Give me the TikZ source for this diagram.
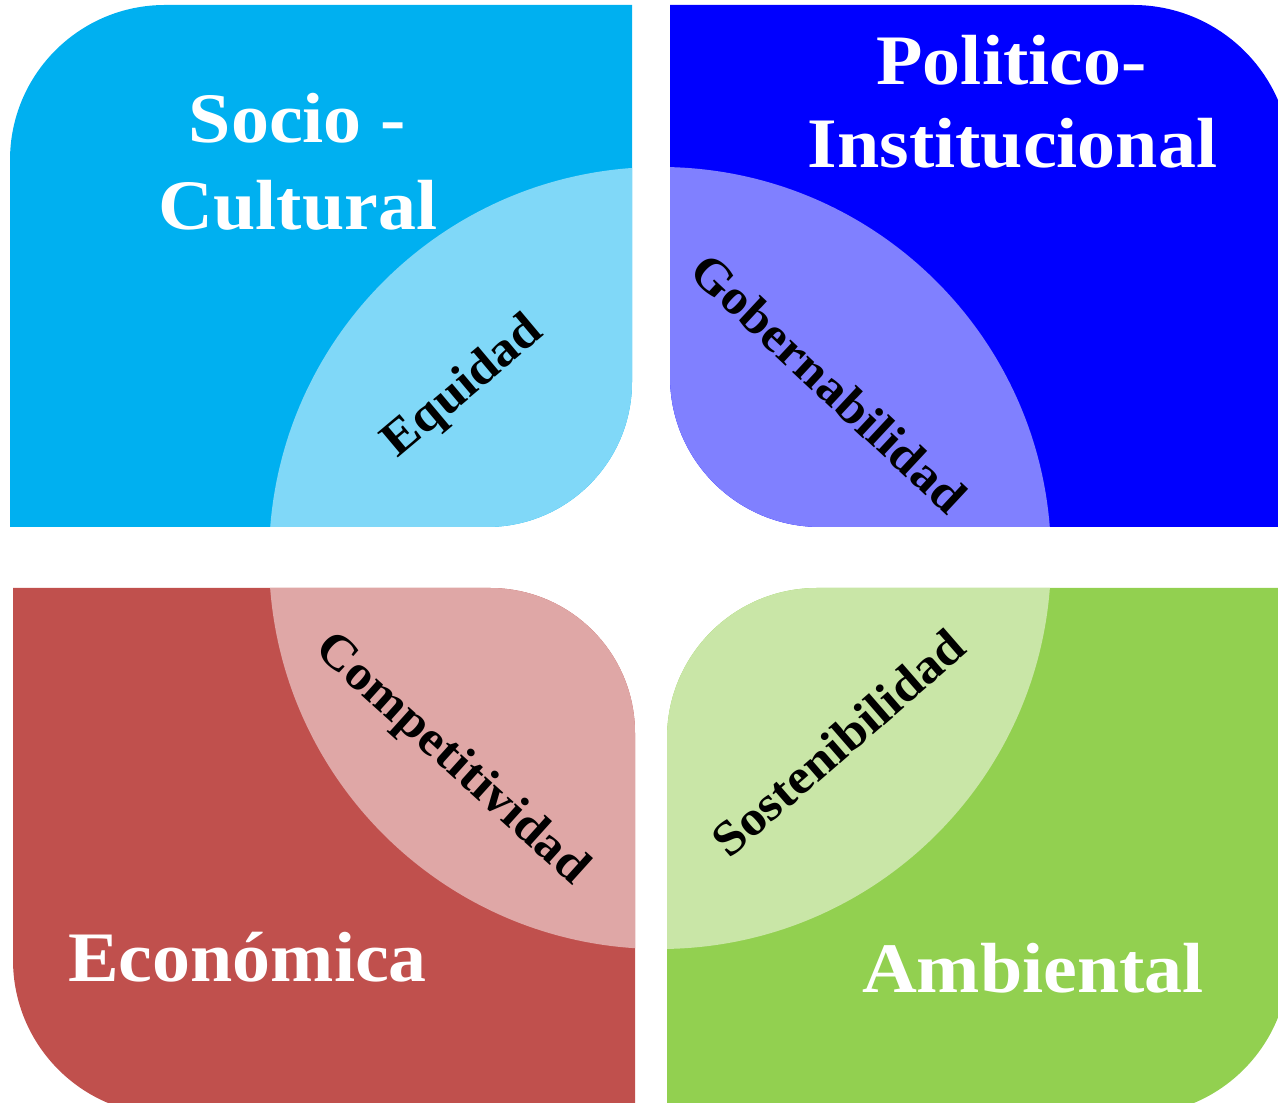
\documentclass[tikz,border=0pt]{standalone}
\usepackage{fontspec}
\setmainfont{Liberation Serif}[FakeStretch=1.07]
\definecolor{tlbase}{HTML}{00B0F0}
\definecolor{tllight}{HTML}{80D8F8}
\definecolor{trbase}{HTML}{0000FF}
\definecolor{trlight}{HTML}{8080FF}
\definecolor{blbase}{HTML}{C0504D}
\definecolor{bllight}{HTML}{DFA7A6}
\definecolor{brbase}{HTML}{92D050}
\definecolor{brlight}{HTML}{C9E6A7}
\def\tlshapepath{(10,576) -- (10,943) arc[start angle=180,end angle=90,radius=155] -- (632,1098) -- (632,721) arc[start angle=0,end angle=-90,radius=145] -- cycle}
\def\trshapepath{(670,726) -- (670,1098) -- (1133,1098) arc[start angle=90,end angle=0,radius=158] -- (1291,576) -- (820,576) arc[start angle=270,end angle=180,radius=150] -- cycle}
\def\blshapepath{(13,515) -- (13,143) arc[start angle=180,end angle=270,radius=155] -- (635,-12) -- (635,370) arc[start angle=0,end angle=90,radius=145] -- cycle}
\def\brshapepath{(667,-12) -- (667,365) arc[start angle=180,end angle=90,radius=150] -- (1289,515) -- (1289,143) arc[start angle=0,end angle=-90,radius=155] -- cycle}
\def\centrecircle{(660,545) circle[radius=391]}
\begin{document}
\begin{tikzpicture}[x=1pt,y=1pt,
  bigtext/.style={font=\fontsize{71}{75}\selectfont\bfseries, text=white, inner sep=0pt, anchor=base},
  diaglabel/.style={font=\fontsize{49}{52}\selectfont\bfseries, text=black, inner sep=0pt}]
\fill[white] (0,0) rectangle (1278,1103);
\useasboundingbox (0,0) rectangle (1278,1103);
% top-left
\fill[tlbase] \tlshapepath;
\begin{scope}
  \clip \tlshapepath;
  \fill[tllight] \centrecircle;
\end{scope}
% top-right
\fill[trbase] \trshapepath;
\begin{scope}
  \clip \trshapepath;
  \fill[trlight] \centrecircle;
\end{scope}
% bottom-left
\fill[blbase] \blshapepath;
\begin{scope}
  \clip \blshapepath;
  \fill[bllight] \centrecircle;
\end{scope}
% bottom-right
\fill[brbase] \brshapepath;
\begin{scope}
  \clip \brshapepath;
  \fill[brlight] \centrecircle;
\end{scope}
% titles
\node[bigtext] (socio) at (297.5,960) {Socio -};
\node[bigtext] (cultural) at (298,873) {Cultural};
\node[bigtext] (politico) at (1011.5,1018) {Politico-};
\node[bigtext] (institucional) at (1012.5,935) {Institucional};
\node[bigtext] (economica) at (247.5,121) {Económica};
\node[bigtext] (ambiental) at (1033,110) {Ambiental};
% diagonal labels
\node[diaglabel, rotate=40] (equidad) at (464,715) {Equidad};
\node[diaglabel, rotate=-43] (gobernabilidad) at (829,720) {Gobernabilidad};
\node[diaglabel, rotate=-42] (competitividad) at (451,343) {Competitividad};
\node[diaglabel, rotate=41] (sostenibilidad) at (838,360) {Sostenibilidad};
\end{tikzpicture}
\end{document}
